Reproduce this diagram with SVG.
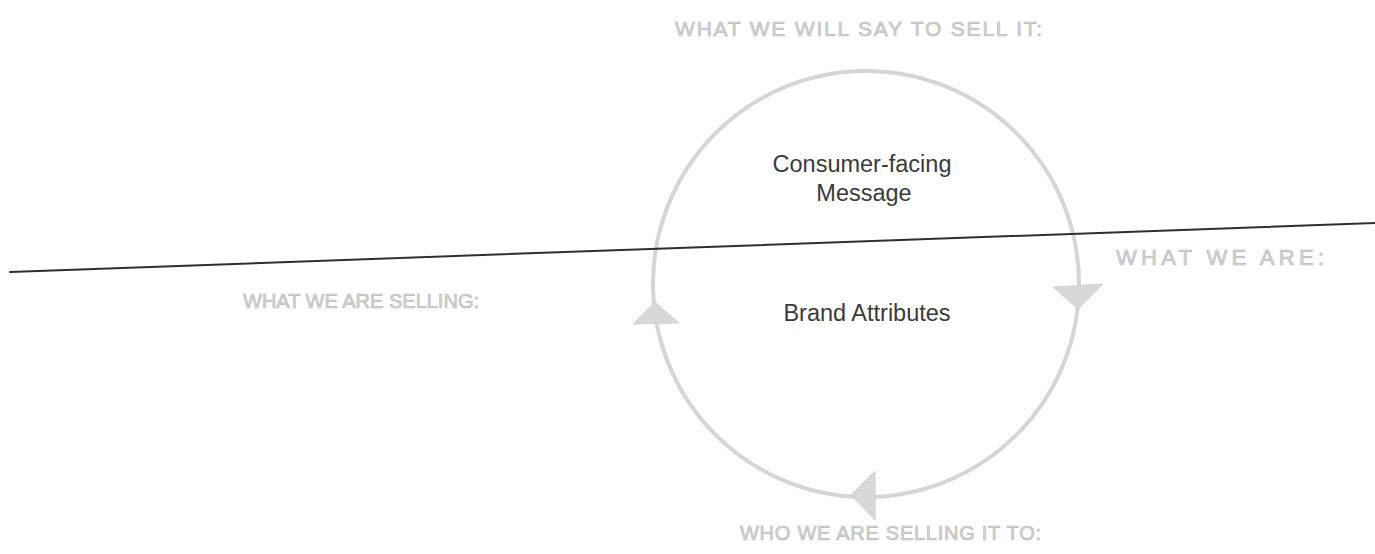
<svg xmlns="http://www.w3.org/2000/svg" width="1375" height="554" viewBox="0 0 1375 554">
  <style>
    .label { font-family: "Liberation Sans", Arial, sans-serif; fill: #d4d4d4; stroke: #bdbdbd; stroke-width: 0.7px; }
    .node-text { font-family: "Liberation Sans", Arial, sans-serif; font-size: 23.5px; fill: #3a3a3a; text-anchor: middle; }
    .cycle { fill: none; stroke: #d5d5d5; stroke-width: 4; }
    .head { fill: #d8d8d8; stroke: #cdcdcd; stroke-width: 0.8; }
    .divider { stroke: #2e2e2e; stroke-width: 2; stroke-linecap: round; }
  </style>
  <rect width="1375" height="554" fill="#ffffff"/>

  <!-- cycle loop with its three direction arrows -->
  <g id="connectors">
    <circle class="cycle" cx="866" cy="284" r="213"/>
    <polygon class="head" points="1053,287 1103,284 1078,309"/>
    <polygon class="head" points="633,324 679,323 655,302"/>
    <polygon class="head" points="851,495 875,471 875,520"/>
  </g>

  <!-- dividing line across the page -->
  <g id="divider">
    <line class="divider" x1="10" y1="272" x2="1375" y2="223"/>
  </g>

  <g id="node-message">
    <text class="node-text" x="862" y="172">Consumer-facing</text>
    <text class="node-text" x="864" y="201">Message</text>
  </g>

  <g id="node-attributes">
    <text class="node-text" x="867" y="321">Brand Attributes</text>
  </g>

  <g id="label-say">
    <text class="label" font-size="21" x="675" y="36" textLength="367" lengthAdjust="spacing">WHAT WE WILL SAY TO SELL IT:</text>
  </g>
  <g id="label-selling">
    <text class="label" font-size="20" x="243" y="308" textLength="236" lengthAdjust="spacing">WHAT WE ARE SELLING:</text>
  </g>
  <g id="label-are">
    <text class="label" font-size="22" x="1116" y="265" textLength="208" lengthAdjust="spacing">WHAT WE ARE:</text>
  </g>
  <g id="label-to">
    <text class="label" font-size="20" x="740" y="540" textLength="301" lengthAdjust="spacing">WHO WE ARE SELLING IT TO:</text>
  </g>
</svg>
